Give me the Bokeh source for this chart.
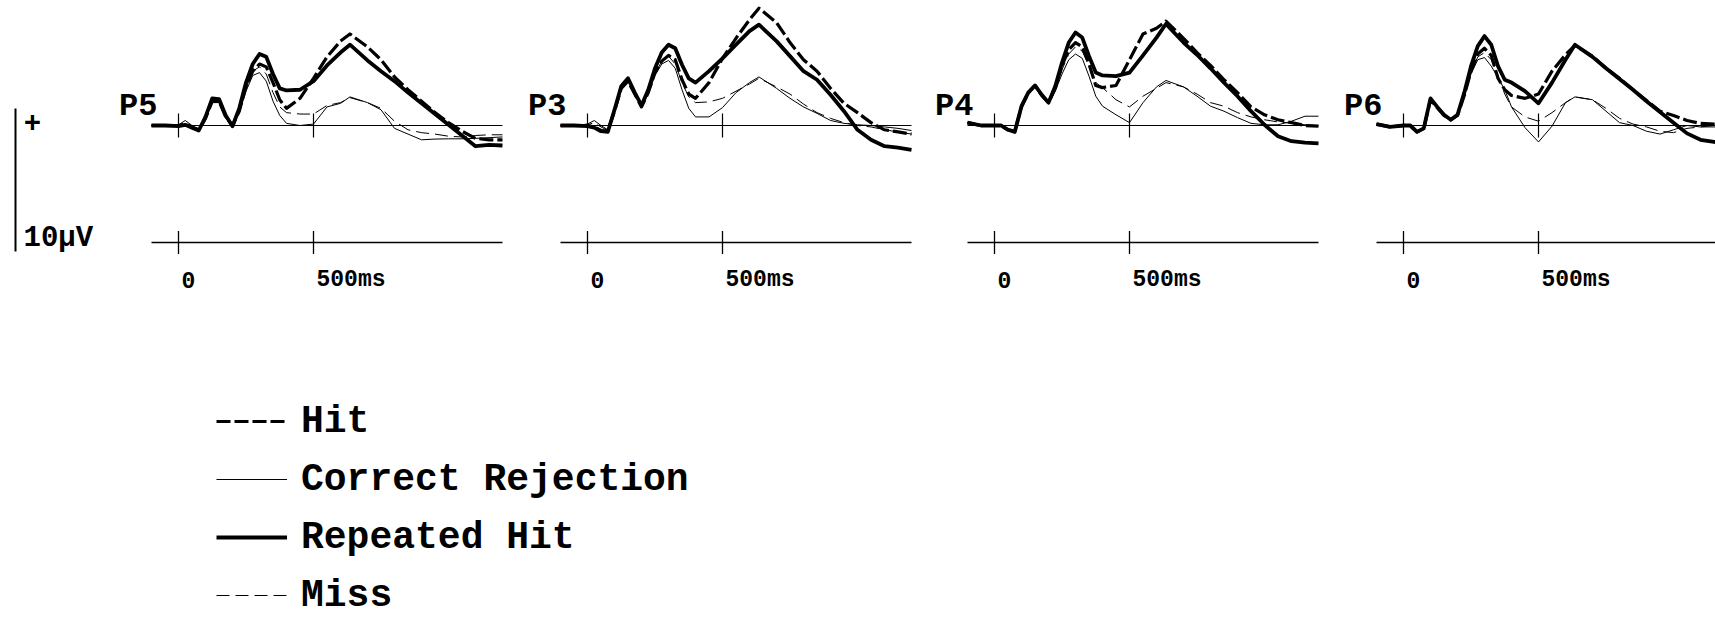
from bokeh.plotting import figure
from bokeh.layouts import row, column
from bokeh.models import Range1d, Legend, LegendItem
from bokeh.core.properties import value
from bokeh.embed import file_html
from bokeh.resources import INLINE

# ---------------- data (ms, microvolts) ----------------
T = [-100, -50, 0, 25, 50, 75, 100, 125, 150, 175, 200, 225, 250, 275, 300, 325, 350, 375,
     400, 450, 500, 550, 600, 635, 700, 750, 800, 850, 900, 950, 1000, 1050, 1100, 1150, 1200]

ELECTRODES = ["P5", "P3", "P4", "P6"]
CONDITIONS = ["Hit", "Correct Rejection", "Repeated Hit", "Miss"]
TICKS = [0, 500]
TICK_LABELS = ["0", "500ms"]
SCALE_UV = 10

P5_HIT = [0.0, 0.0, 0.0, 0.1, -0.1, -0.3, 0.5, 1.7, 1.7, 0.6, 0.0, 1.0, 2.7, 3.8, 4.3, 4.1, 3.0, 1.8,
          1.2, 1.9, 3.3, 4.8, 5.9, 6.4, 5.5, 4.6, 3.4, 2.5, 1.7, 0.9, 0.2, -0.4, -0.9, -1.0, -1.0]
P5_CR = [0.0, 0.0, 0.05, 0.35, 0.0, -0.3, 0.5, 1.6, 1.6, 0.5, -0.05, 0.9, 2.4, 3.5, 3.7, 3.1, 1.7, 0.7,
         0.15, 0.0, 0.1, 1.3, 1.55, 2.0, 1.6, 1.1, -0.2, -0.6, -1.0, -0.95, -0.93, -0.93, -0.9, -0.85, -0.8]
P5_RH = [0.0, 0.0, -0.05, 0.05, -0.15, -0.35, 0.6, 1.9, 1.85, 0.7, -0.05, 1.2, 3.0, 4.3, 5.0, 4.8, 3.6, 2.6,
         2.45, 2.5, 3.1, 4.2, 5.1, 5.65, 4.55, 3.8, 3.1, 2.3, 1.55, 0.8, 0.05, -0.7, -1.45, -1.35, -1.4]
P5_MISS = [0.0, 0.0, 0.0, 0.2, -0.05, -0.3, 0.5, 1.7, 1.7, 0.6, 0.0, 1.0, 2.6, 3.8, 4.1, 3.6, 2.3, 1.3,
           0.9, 0.8, 0.8, 1.4, 1.6, 1.95, 1.6, 1.2, 0.3, -0.3, -0.5, -0.6, -0.75, -0.8, -0.7, -0.65, -0.65]

P3_HIT = [0.0, 0.0, 0.0, -0.1, -0.35, -0.4, 1.0, 2.6, 3.1, 2.2, 1.3, 2.3, 3.7, 4.5, 4.9, 4.6, 3.2, 2.2,
          1.9, 3.0, 4.7, 6.1, 7.4, 8.2, 7.2, 5.8, 4.6, 3.8, 2.6, 1.55, 0.9, 0.2, -0.3, -0.45, -0.6]
P3_CR = [0.0, 0.0, 0.1, 0.35, 0.0, -0.3, 1.0, 2.6, 3.2, 2.2, 1.3, 2.2, 3.5, 4.3, 4.55, 4.0, 2.5, 1.2,
         0.6, 0.6, 1.25, 2.3, 3.0, 3.4, 2.6, 1.9, 1.3, 0.85, 0.35, 0.15, 0.05, 0.0, -0.1, -0.2, -0.35]
P3_RH = [0.0, 0.0, -0.05, -0.15, -0.4, -0.45, 1.1, 2.75, 3.3, 2.3, 1.4, 2.5, 4.0, 5.1, 5.65, 5.4, 4.25, 3.3,
         3.0, 3.8, 4.7, 5.65, 6.6, 7.05, 5.9, 4.85, 3.8, 3.2, 2.15, 1.0, -0.3, -1.0, -1.45, -1.55, -1.7]
P3_MISS = [0.0, 0.0, 0.05, 0.2, -0.1, -0.35, 1.0, 2.6, 3.2, 2.2, 1.3, 2.3, 3.6, 4.5, 4.85, 4.3, 3.0, 2.0,
           1.6, 1.65, 1.9, 2.4, 2.9, 3.3, 2.7, 2.2, 1.5, 0.9, 0.5, 0.2, 0.0, -0.1, -0.3, -0.45, -0.6]

P4_HIT = [0.2, 0.0, 0.0, 0.0, -0.3, -0.4, 1.3, 2.3, 2.8, 2.1, 1.6, 2.6, 4.2, 5.3, 5.8, 5.5, 4.3, 2.8,
          2.65, 2.8, 4.6, 6.4, 6.8, 7.3, 6.1, 5.1, 4.2, 3.2, 2.3, 1.3, 0.75, 0.4, 0.2, 0.0, -0.05]
P4_CR = [0.2, 0.0, 0.0, 0.0, -0.3, -0.4, 1.3, 2.2, 2.7, 2.0, 1.5, 2.4, 3.6, 4.6, 5.0, 4.7, 3.45, 2.05,
         1.35, 0.75, 0.2, 1.6, 2.7, 3.15, 2.7, 2.05, 1.35, 1.0, 0.55, 0.15, 0.05, 0.05, 0.3, 0.65, 0.65]
P4_RH = [0.2, 0.0, 0.0, 0.0, -0.3, -0.45, 1.35, 2.3, 2.8, 2.15, 1.6, 2.75, 4.4, 5.8, 6.5, 6.15, 4.85, 3.7,
         3.5, 3.45, 3.7, 4.9, 6.15, 7.1, 5.8, 4.95, 4.0, 3.0, 2.05, 1.0, 0.05, -0.75, -1.1, -1.2, -1.25]
P4_MISS = [0.2, 0.0, 0.0, 0.0, -0.3, -0.4, 1.3, 2.2, 2.75, 2.05, 1.55, 2.5, 3.9, 5.0, 5.5, 5.2, 4.2, 3.0,
           2.65, 1.8, 1.3, 2.05, 2.6, 3.0, 2.7, 2.2, 1.6, 1.35, 0.9, 0.6, 0.4, 0.25, 0.15, 0.05, 0.0]

P6_HIT = [0.1, -0.1, 0.0, 0.0, -0.45, -0.2, 1.8, 1.25, 0.7, 0.4, 0.7, 2.1, 3.8, 5.0, 5.4, 4.9, 3.3, 2.5,
          2.1, 1.9, 2.2, 3.8, 4.95, 5.6, 4.85, 4.0, 3.3, 2.5, 1.75, 1.0, 0.7, 0.35, 0.15, 0.1, 0.1]
P6_CR = [0.1, -0.1, 0.0, 0.0, -0.4, -0.2, 1.7, 1.2, 0.7, 0.4, 0.7, 2.0, 3.6, 4.6, 4.75, 4.15, 3.35, 2.5,
         1.3, -0.15, -1.15, -0.05, 1.6, 2.0, 1.8, 1.0, 0.2, 0.0, -0.4, -0.6, -0.3, 0.0, -0.1, -0.1, -0.1]
P6_RH = [0.1, -0.1, 0.0, 0.0, -0.45, -0.2, 1.9, 1.3, 0.75, 0.4, 0.75, 2.3, 4.15, 5.55, 6.25, 5.65, 4.15, 3.2,
         3.0, 2.4, 1.55, 3.0, 4.6, 5.65, 4.8, 4.0, 3.25, 2.5, 1.7, 0.95, 0.2, -0.55, -1.0, -1.15, -1.2]
P6_MISS = [0.1, -0.1, 0.0, 0.0, -0.4, -0.2, 1.75, 1.2, 0.7, 0.4, 0.7, 2.1, 3.7, 4.8, 5.1, 4.6, 3.5, 2.2,
           1.3, 0.6, 0.3, 0.9, 1.6, 2.0, 1.8, 1.2, 0.5, 0.1, -0.1, -0.4, -0.5, -0.2, -0.1, 0.0, 0.0]

SERIES = {
    "P5": {"Hit": P5_HIT, "Correct Rejection": P5_CR, "Repeated Hit": P5_RH, "Miss": P5_MISS},
    "P3": {"Hit": P3_HIT, "Correct Rejection": P3_CR, "Repeated Hit": P3_RH, "Miss": P3_MISS},
    "P4": {"Hit": P4_HIT, "Correct Rejection": P4_CR, "Repeated Hit": P4_RH, "Miss": P4_MISS},
    "P6": {"Hit": P6_HIT, "Correct Rejection": P6_CR, "Repeated Hit": P6_RH, "Miss": P6_MISS},
}

# ---------------- styling / geometry ----------------
FONT = value("Liberation Mono")
INK = "#000000"
PX_PER_MS = 0.27
PX_PER_UV = 14.3
ROW_H = 320
BASE_PX = 125          # baseline distance from the top of the row
ZERO_PX = 74           # 0 ms position inside each panel
PANEL_W = [409, 407, 409, 386]
SCALE_W = 104
LEGEND_H = 299
TOTAL_W = SCALE_W + sum(PANEL_W)

Y_TOP = BASE_PX / PX_PER_UV
Y_BOT = -(ROW_H - BASE_PX) / PX_PER_UV


def px_uv(px):
    return px / PX_PER_UV


def px_ms(px):
    return px / PX_PER_MS


STYLE = {
    "Hit": dict(line_width=3.2, line_dash="14 4"),
    "Correct Rejection": dict(line_width=1.0),
    "Repeated Hit": dict(line_width=3.8),
    "Miss": dict(line_width=1.0, line_dash="13 6"),
}
DRAW_ORDER = ["Correct Rejection", "Miss", "Hit", "Repeated Hit"]


def base_fig(w, h, xr, yr):
    f = figure(width=w, height=h, x_range=xr, y_range=yr, x_axis_type=None, y_axis_type=None,
               toolbar_location=None, output_backend="svg", min_border=0)
    f.outline_line_color = None
    return f


def panel(name, w):
    x0 = -px_ms(ZERO_PX)
    p = base_fig(w, ROW_H, Range1d(x0, x0 + px_ms(w)), Range1d(Y_BOT, Y_TOP))
    # baseline with ticks
    p.line([T[0], T[-1]], [0, 0], line_color=INK, line_width=1.2)
    th = px_uv(12)
    p.segment(x0=TICKS, x1=TICKS, y0=[-th] * len(TICKS), y1=[th] * len(TICKS),
              line_color=INK, line_width=1.2)
    # time scale below
    ay = -px_uv(117)
    p.line([T[0], T[-1]], [ay, ay], line_color=INK, line_width=1.3)
    p.segment(x0=TICKS, x1=TICKS, y0=[ay - px_uv(11.5)] * len(TICKS), y1=[ay + px_uv(11.5)] * len(TICKS),
              line_color=INK, line_width=1.3)
    p.text(x=[t + px_ms(3) for t in TICKS], y=[-px_uv(154)] * len(TICKS), text=TICK_LABELS,
           text_align="left", text_baseline="alphabetic", text_font=FONT, text_font_style="bold",
           text_font_size="23px", text_color=INK)
    # waveforms
    data = SERIES[name]
    for cond in DRAW_ORDER:
        p.line(T, data[cond], line_color=INK, line_join="round", line_cap="butt", **STYLE[cond])
    # electrode label
    p.text(x=[T[0] + px_ms(6)], y=[px_uv(19)], text=[name], text_align="right",
           text_baseline="alphabetic", text_font=FONT, text_font_style="bold",
           text_font_size="32px", text_color=INK)
    return p


# amplitude scale bar
s = base_fig(SCALE_W, ROW_H, Range1d(0, SCALE_W), Range1d(Y_BOT, Y_TOP))
bar_top = px_uv(17)
s.segment(x0=[15], x1=[15], y0=[bar_top], y1=[bar_top - SCALE_UV], line_color=INK, line_width=2)
s.text(x=[32], y=[px_uv(4)], text=["+"], text_align="center", text_baseline="middle",
       text_font=FONT, text_font_style="bold", text_font_size="29px", text_color=INK)
s.text(x=[23], y=[-px_uv(113)], text=[f"{SCALE_UV}\u03bcV"], text_align="left",
       text_baseline="alphabetic", text_font=FONT, text_font_style="bold",
       text_font_size="29px", text_color=INK)

panels = [panel(n, w) for n, w in zip(ELECTRODES, PANEL_W)]

# legend
lg = base_fig(TOTAL_W, LEGEND_H, Range1d(0, 1), Range1d(0, 1))
items = []
for cond in CONDITIONS:
    r = lg.line(x=[float("nan")], y=[float("nan")], line_color=INK, **STYLE[cond])
    items.append(LegendItem(label=cond, renderers=[r]))
legend = Legend(items=items, location=(216, 1), orientation="vertical",
                glyph_width=71, glyph_height=34, label_height=46, spacing=12,
                padding=0, margin=0, label_standoff=14,
                border_line_alpha=0, background_fill_alpha=0,
                label_text_font="Liberation Mono", label_text_font_style="bold",
                label_text_font_size="38px", label_text_color=INK)
lg.add_layout(legend)

layout = column(row(s, *panels), lg)
open("out.html", "w").write(file_html(layout, INLINE))
